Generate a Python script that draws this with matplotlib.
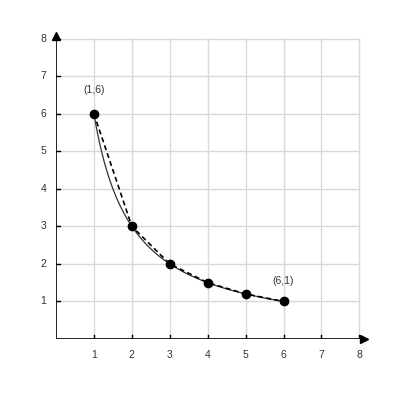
import numpy as np
import matplotlib
matplotlib.use("Agg")
import matplotlib.pyplot as plt

plt.rcParams['font.family'] = ['Liberation Sans', 'DejaVu Sans']

# data
pts_x = [1, 2, 3, 4, 5, 6]
pts_y = [6, 3, 2, 1.5, 1.2, 1]
curve_k = 6  # y = k / x
ticks = [1, 2, 3, 4, 5, 6, 7, 8]
labels = ["(1,6)", "(6,1)"]

fig = plt.figure(figsize=(4, 4), dpi=100)
W = H = 400
left, bottom = 56, 400 - 339
ax = fig.add_axes([left / W, bottom / H, 311 / W, 306 / H])
ax.set_xlim(0, 8.2)
ax.set_ylim(0, 8.15)
for s in ax.spines.values():
    s.set_visible(False)

# grid
for t in ticks:
    ax.plot([t, t], [0, 8], color="#d9d9d9", lw=1, zorder=0)
    ax.plot([0, 8], [t, t], color="#d9d9d9", lw=1, zorder=0)

# axes lines
ax.plot([0, 8.1], [0, 0], color="black", lw=1.2, zorder=2)
ax.plot([0, 0], [0, 8.05], color="black", lw=1.2, zorder=2)
ax.plot([8.12], [0], marker=">", color="black", ms=6, zorder=3, clip_on=False)
ax.plot([0], [8.08], marker="^", color="black", ms=6, zorder=3, clip_on=False)

# ticks
for t in ticks:
    ax.plot([t, t], [-0.1, 0.1], color="black", lw=1, zorder=2)
    ax.plot([-0.1, 0.1], [t, t], color="black", lw=1, zorder=2)
    ax.text(t, -0.28, str(t), ha="center", va="top", fontsize=7.5, color="#333333")
    ax.text(-0.25, t, str(t), ha="right", va="center", fontsize=7.5, color="#333333")

ax.set_xticks([])
ax.set_yticks([])

# curve
xs = np.linspace(1, 6, 200)
ax.plot(xs, curve_k / xs, color="#333333", lw=0.9, zorder=3)
ax.plot(pts_x, pts_y, color="black", lw=1.2, ls=(0, (3, 2)), zorder=4)
ax.plot(pts_x, pts_y, "o", color="black", ms=6, zorder=5)

ax.text(pts_x[0], pts_y[0] + 0.5, labels[0], ha="center", va="bottom", fontsize=7.5, color="#333333")
ax.text(pts_x[-1], pts_y[-1] + 0.4, labels[1], ha="center", va="bottom", fontsize=7.5, color="#333333")

fig.savefig("out.png", dpi=100)
